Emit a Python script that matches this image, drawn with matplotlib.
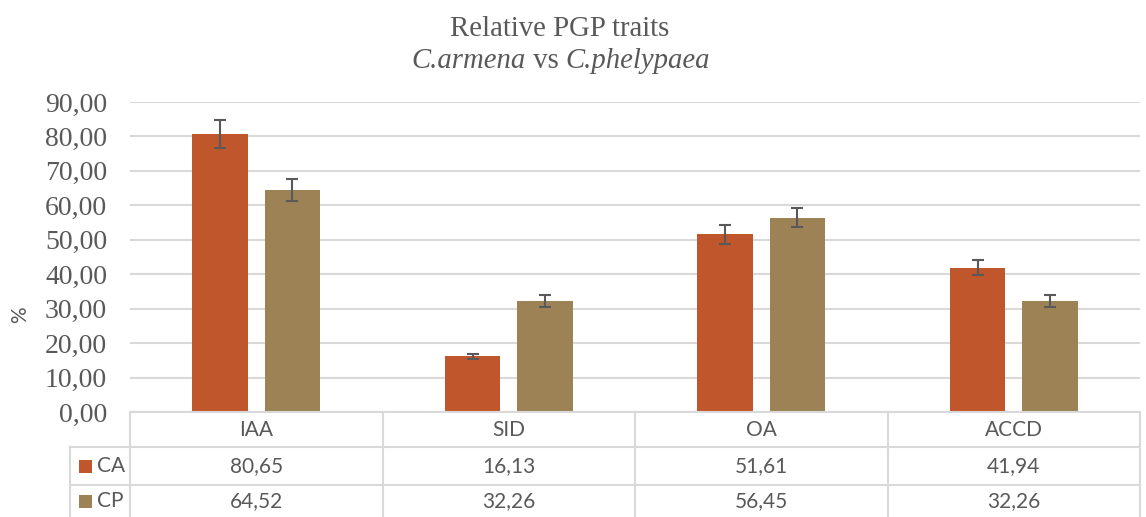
import numpy as np
import matplotlib
matplotlib.use("Agg")
import matplotlib.pyplot as plt
from matplotlib.patches import Rectangle
from matplotlib.lines import Line2D

categories = ["IAA", "SID", "OA", "ACCD"]
series_names = ["CA", "CP"]
ca_values = [80.65, 16.13, 51.61, 41.94]
cp_values = [64.52, 32.26, 56.45, 32.26]
ca_err = [4.1, 0.8, 2.7, 2.1]
cp_err = [3.2, 1.65, 2.85, 1.65]
y_ticks = [0, 10, 20, 30, 40, 50, 60, 70, 80, 90]

CA_COLOR = "#C0562B"
CP_COLOR = "#9D8256"
GRID = "#D9D9D9"
TEXT = "#595959"
SERIF = "Liberation Serif"
SANS = "Lato"

W, H = 1146, 517
fig = plt.figure(figsize=(W / 100, H / 100), dpi=100)


def fy(p):
    return 1 - p / H


def fx(p):
    return p / W


# plot area in pixels
x0, x1 = 130, 1140
y_top, y_bot = 102, 412
ax = fig.add_axes([fx(x0), fy(y_bot), (x1 - x0) / W, (y_bot - y_top) / H])

x = np.arange(len(categories))
bw = 0.22
off = 0.143
err_kw = dict(ecolor=TEXT, elinewidth=1.5, capsize=4.5, capthick=1.5)
ax.bar(x - off, ca_values, bw, color=CA_COLOR, yerr=ca_err, error_kw=err_kw, zorder=3)
ax.bar(x + off, cp_values, bw, color=CP_COLOR, yerr=cp_err, error_kw=err_kw, zorder=3)

ax.set_xlim(-0.5, len(categories) - 0.5)
ax.set_ylim(0, 90)
ax.set_yticks(y_ticks)
ax.set_yticklabels([f"{v:.2f}".replace(".", ",") for v in y_ticks],
                   fontfamily=SERIF, fontsize=20, color=TEXT)
ax.tick_params(axis="y", length=0, pad=16.5)
ax.set_xticks([])
ax.grid(axis="y", color=GRID, linewidth=1.5, zorder=0)
for s in ax.spines.values():
    s.set_visible(False)

fig.text(fx(20), fy(315), "%", rotation=90, ha="center", va="center",
         fontfamily=SANS, fontsize=15, color=TEXT)

# titles
fig.text(fx(560), fy(36), "Relative PGP traits", ha="center", va="baseline",
         fontfamily=SERIF, fontsize=20.7, color=TEXT)

pieces = [("C.armena", "italic"), (" vs ", "normal"), ("C.phelypaea", "italic")]
texts = []
for s, style in pieces:
    texts.append(fig.text(0, fy(68), s, ha="left", va="baseline", fontfamily=SERIF,
                          fontstyle=style, fontsize=20.7, color=TEXT))
renderer = fig.canvas.get_renderer()
widths = [t.get_window_extent(renderer).width for t in texts]
cur = 561 - sum(widths) / 2
for t, w in zip(texts, widths):
    t.set_x(fx(cur))
    cur += w

# data table below the axis
rows_y = [412, 447, 485, 517]
leg_x0 = 70
bounds_px = np.linspace(x0, x1, len(categories) + 1)


def hline(xa, xb, yp):
    fig.add_artist(Line2D([fx(xa), fx(xb)], [fy(yp), fy(yp)], color=GRID, lw=1.5))


def vline(xp, ya, yb):
    fig.add_artist(Line2D([fx(xp), fx(xp)], [fy(ya), fy(yb)], color=GRID, lw=1.5))


hline(x0, x1, rows_y[0])
hline(leg_x0, x1, rows_y[1])
hline(leg_x0, x1, rows_y[2])
for b in bounds_px:
    vline(b, rows_y[0], rows_y[3])
vline(leg_x0, rows_y[1], rows_y[3])

centers = (bounds_px[:-1] + bounds_px[1:]) / 2
for c, lab in zip(centers, categories):
    fig.text(fx(c), fy((rows_y[0] + rows_y[1]) / 2), lab, ha="center", va="center",
             fontfamily=SANS, fontsize=15, color=TEXT)

table_rows = [ca_values, cp_values]
colors = [CA_COLOR, CP_COLOR]
for i, (name, vals, col) in enumerate(zip(series_names, table_rows, colors)):
    yc = (rows_y[i + 1] + rows_y[i + 2]) / 2
    fig.add_artist(Rectangle((fx(79), fy(yc + 6.5)), 13 / W, 13 / H,
                             facecolor=col, edgecolor="none"))
    fig.text(fx(97), fy(yc), name, ha="left", va="center",
             fontfamily=SANS, fontsize=15, color=TEXT)
    for c, v in zip(centers, vals):
        fig.text(fx(c), fy(yc), f"{v:.2f}".replace(".", ","), ha="center", va="center",
                 fontfamily=SANS, fontsize=15, color=TEXT)

fig.savefig("out.png", dpi=100)
